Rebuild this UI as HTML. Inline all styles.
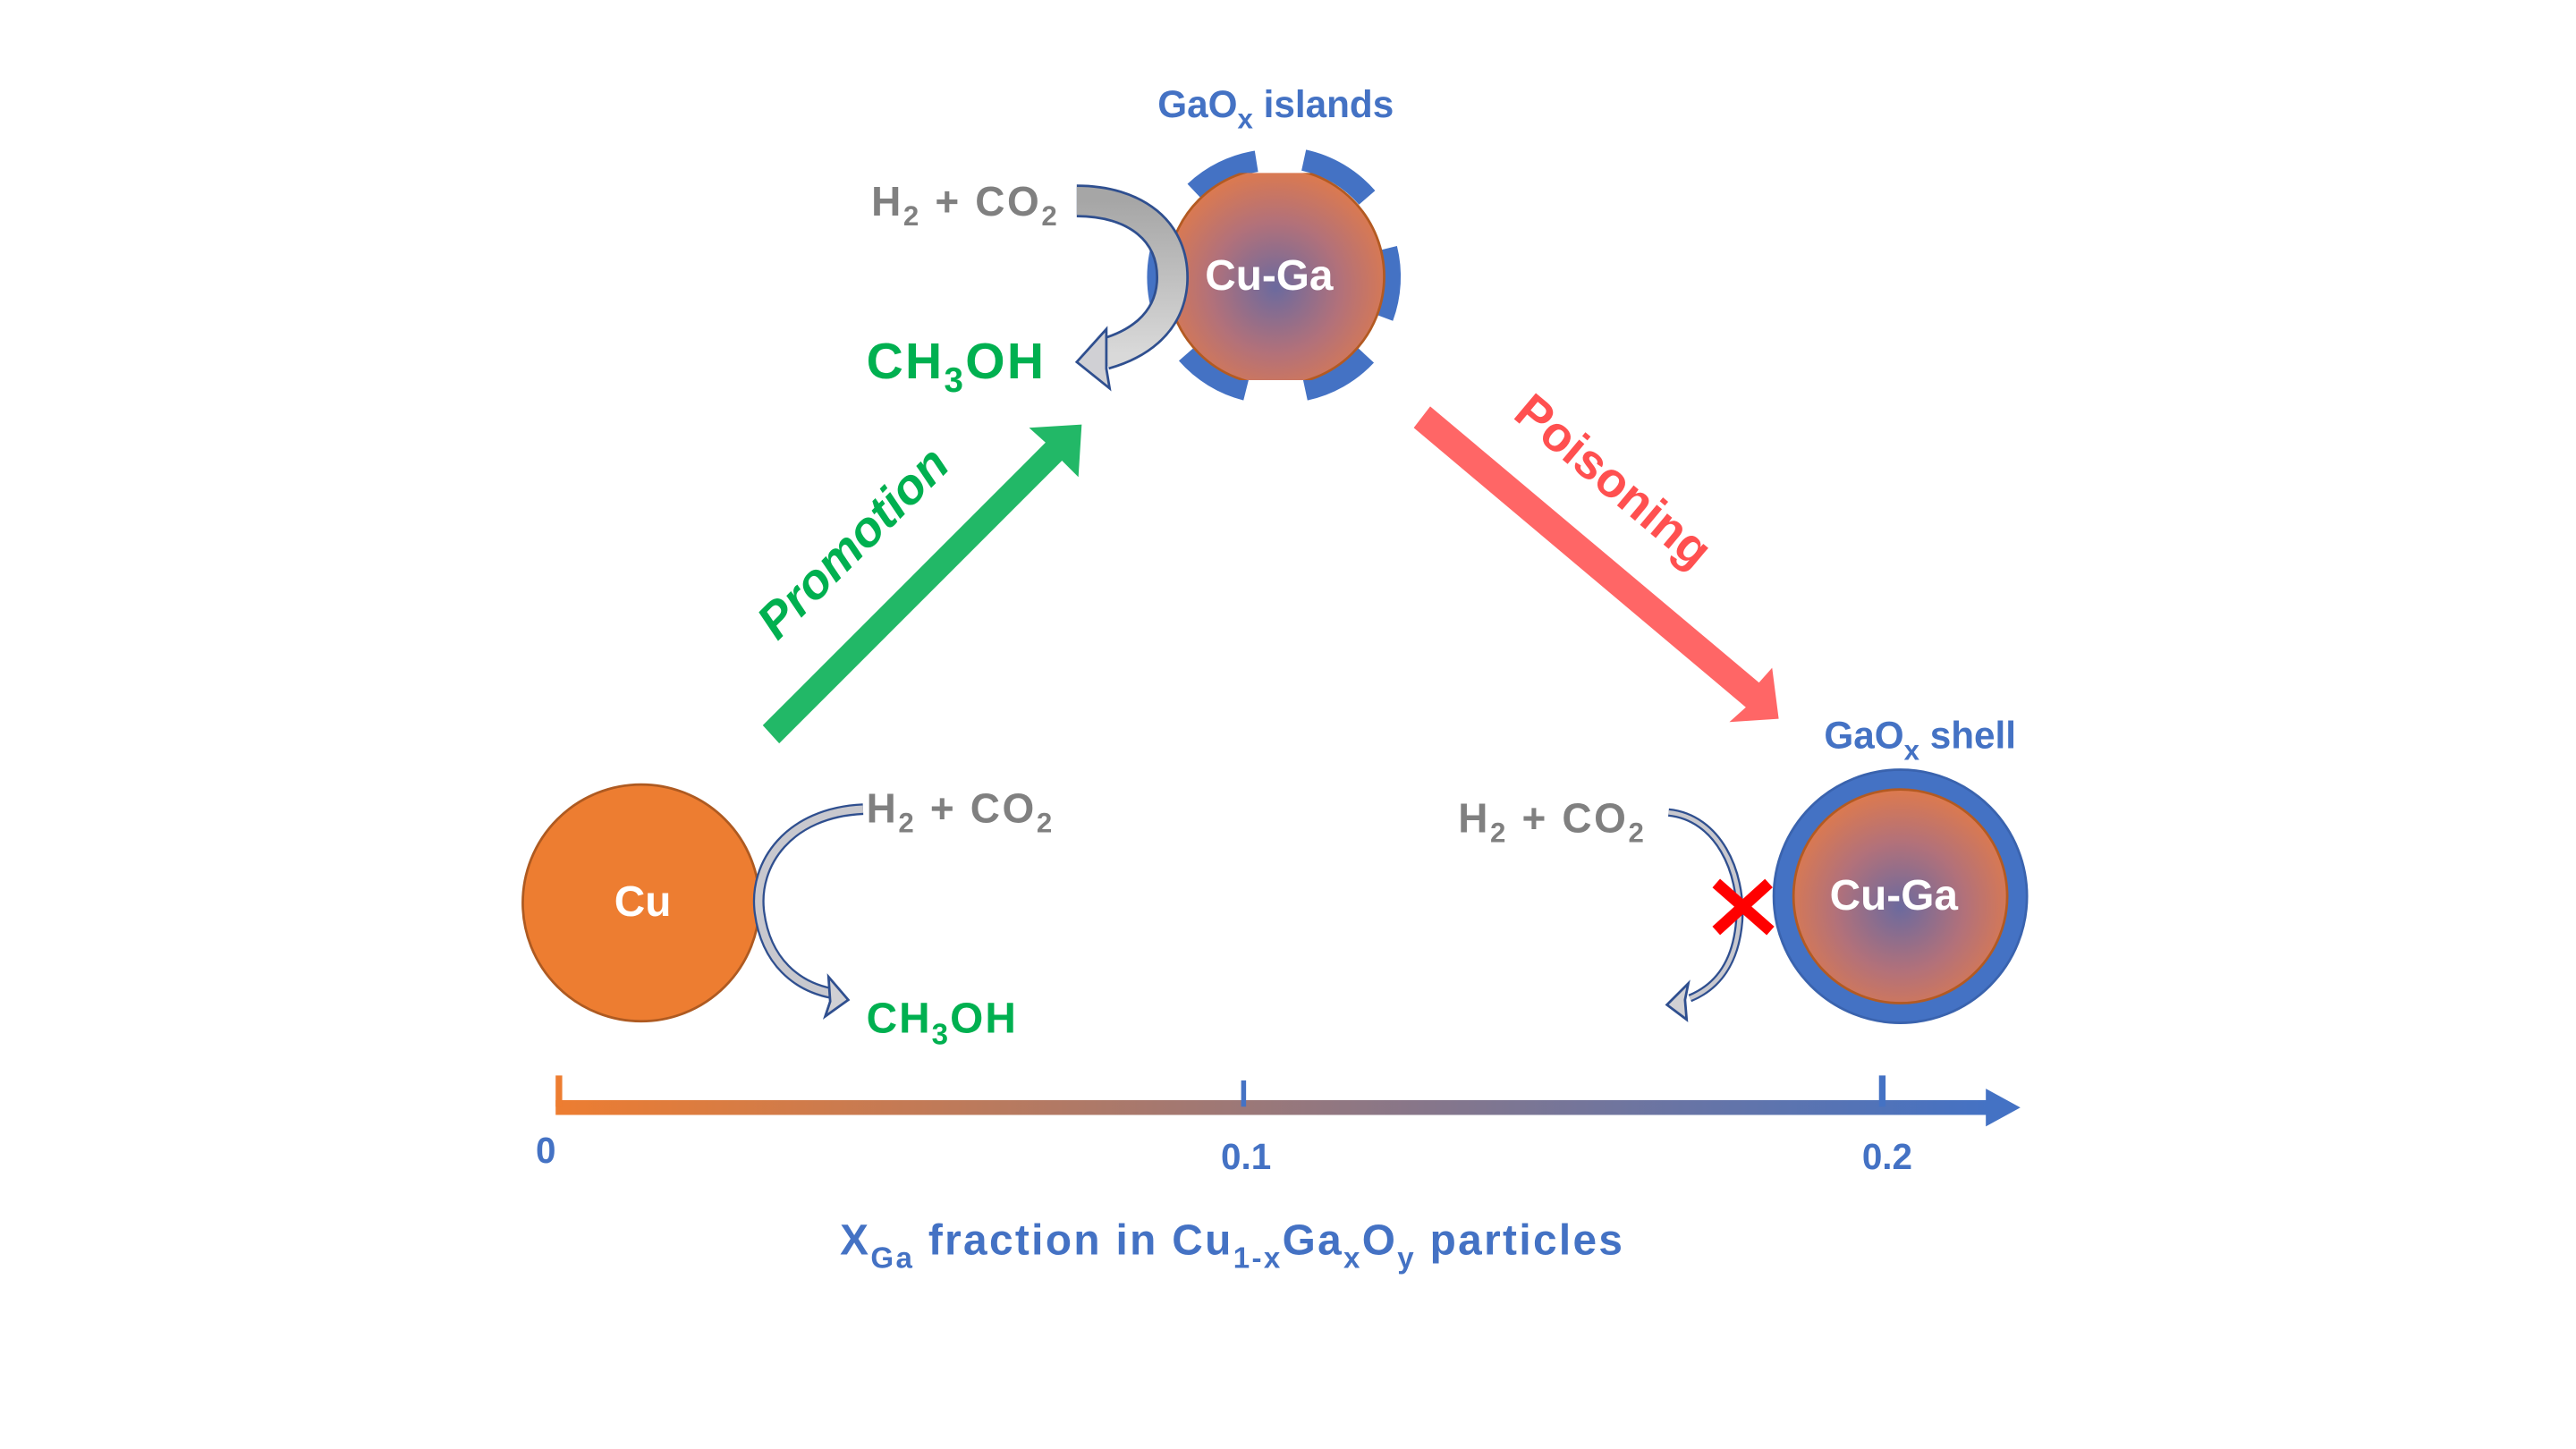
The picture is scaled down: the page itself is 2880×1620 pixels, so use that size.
<!DOCTYPE html>
<html><head><meta charset="utf-8"><style>
html,body{margin:0;padding:0;background:#fff;}
svg{display:block;}
text{font-family:"Liberation Sans",sans-serif;font-weight:bold;}
</style></head><body>
<svg width="2880" height="1620" viewBox="0 0 1567 881" xmlns="http://www.w3.org/2000/svg">
<defs>
<radialGradient id="cg" cx="50%" cy="55%" r="55%">
<stop offset="0" stop-color="#6B6A9E"/>
<stop offset="0.55" stop-color="#B2717A"/>
<stop offset="1" stop-color="#DD7A4E"/>
</radialGradient>
<linearGradient id="ax" x1="0" x2="1" y1="0" y2="0">
<stop offset="0" stop-color="#ED7D31"/>
<stop offset="1" stop-color="#4472C4"/>
</linearGradient>
<linearGradient id="gr" x1="0" x2="0" y1="0" y2="1">
<stop offset="0" stop-color="#A6A6A6"/>
<stop offset="1" stop-color="#D9D9D9"/>
</linearGradient>
<clipPath id="oct"><rect x="700" y="105" width="152" height="126"/></clipPath>
</defs>

<g fill="none" stroke="#4472C4" stroke-width="13">
<path d="M 764.3 97.9 A 71 71 0 0 0 726.8 116.4"/>
<path d="M 793.1 97.2 A 71 71 0 0 1 831.6 120"/>
<path d="M 843.5 151 A 71 71 0 0 1 841.2 192.7"/>
<path d="M 831 216 A 71 71 0 0 1 794 237"/>
<path d="M 758 237 A 71 71 0 0 1 722 215"/>
<path d="M 709 194 A 71 71 0 0 1 709 143"/>
</g>
<g clip-path="url(#oct)">
<circle cx="776" cy="168" r="66" fill="url(#cg)" stroke="#B35A22" stroke-width="1.5"/>
</g>
<text x="772" y="176" font-size="26" fill="#fff" text-anchor="middle">Cu-Ga</text>
<text x="776" y="71" font-size="23" fill="#4472C4" text-anchor="middle">GaO<tspan font-size="17" dy="7">x</tspan><tspan dy="-7"> islands</tspan></text>

<path d="M 655 122 C 690 122 715 140 713 172 C 711 198 690 210 672 215" fill="none" stroke="#2F4F8F" stroke-width="20"/>
<path d="M 655 122 C 690 122 715 140 713 172 C 711 198 690 210 672 215" fill="none" stroke="url(#gr)" stroke-width="17"/>
<polygon points="673,200 655,220 675,236 673,224" fill="#D0D0D4" stroke="#2F4F8F" stroke-width="1.5"/>
<text x="530" y="131" font-size="25" fill="#808080" textLength="113">H<tspan font-size="17" dy="6">2</tspan><tspan dy="-6"> + CO</tspan><tspan font-size="17" dy="6">2</tspan></text>
<text x="527" y="230" font-size="31" fill="#00B050" textLength="108">CH<tspan font-size="21" dy="8">3</tspan><tspan dy="-8">OH</tspan></text>

<polygon points="464,441 636,269 626,260 658,258 656,290 646,280 474,452" fill="#22B867"/>
<text transform="translate(526,337) rotate(-45)" font-size="30" font-style="italic" fill="#00B050" text-anchor="middle">Promotion</text>

<polygon points="860,260 1062,430 1052,439 1082,437 1078,406 1070,415 870,247" fill="#FF6666"/>
<text transform="translate(975,300) rotate(40)" font-size="30" fill="#FF5050" text-anchor="middle">Poisoning</text>

<circle cx="390" cy="549" r="72" fill="#ED7D31" stroke="#AE5A21" stroke-width="1.5"/>
<text x="391" y="557" font-size="26" fill="#fff" text-anchor="middle">Cu</text>
<path d="M 525 492 C 480 494 458 525 462 555 C 466 585 485 600 506 604" fill="none" stroke="#2F4F8F" stroke-width="7"/>
<path d="M 525 492 C 480 494 458 525 462 555 C 466 585 485 600 506 604" fill="none" stroke="#C8C8CE" stroke-width="4.5"/>
<polygon points="504,594 516,608 502,618 505,609" fill="#D0D0D4" stroke="#2F4F8F" stroke-width="1.5"/>
<text x="527" y="500" font-size="25" fill="#808080" textLength="113">H<tspan font-size="17" dy="6">2</tspan><tspan dy="-6"> + CO</tspan><tspan font-size="17" dy="6">2</tspan></text>
<text x="527" y="628" font-size="26" fill="#00B050" textLength="91">CH<tspan font-size="18" dy="7">3</tspan><tspan dy="-7">OH</tspan></text>

<circle cx="1156" cy="545" r="77" fill="#4472C4" stroke="#3A63AE" stroke-width="1.5"/>
<circle cx="1156" cy="545" r="65" fill="url(#cg)" stroke="#B35A22" stroke-width="1.5"/>
<text x="1152" y="553" font-size="26" fill="#fff" text-anchor="middle">Cu-Ga</text>
<text x="1168" y="455" font-size="23" fill="#4472C4" text-anchor="middle">GaO<tspan font-size="17" dy="7">x</tspan><tspan dy="-7"> shell</tspan></text>
<text x="887" y="506" font-size="25" fill="#808080" textLength="113">H<tspan font-size="17" dy="6">2</tspan><tspan dy="-6"> + CO</tspan><tspan font-size="17" dy="6">2</tspan></text>
<path d="M 1015 494 C 1045 497 1060 530 1058 560 C 1056 585 1045 600 1028 607" fill="none" stroke="#2F4F8F" stroke-width="5"/>
<path d="M 1015 494 C 1045 497 1060 530 1058 560 C 1056 585 1045 600 1028 607" fill="none" stroke="#C8C8CE" stroke-width="2.5"/>
<polygon points="1027,598 1014,611 1026,620 1025,608" fill="#D0D0D4" stroke="#2F4F8F" stroke-width="1.5"/>
<g stroke="#FF0000" stroke-width="7">
<line x1="1044" y1="537" x2="1077" y2="566"/>
<line x1="1044" y1="566" x2="1076" y2="537"/>
</g>

<rect x="338" y="669" width="872" height="9" fill="url(#ax)"/>
<polygon points="1208,662 1229,673.5 1208,685" fill="#4472C4"/>
<rect x="338" y="654" width="4" height="19" fill="#ED7D31"/>
<rect x="755" y="657" width="3" height="16" fill="#4472C4"/>
<rect x="1143" y="654" width="4" height="19" fill="#4472C4"/>
<text x="332" y="707" font-size="22" fill="#4472C4" text-anchor="middle">0</text>
<text x="758" y="711" font-size="22" fill="#4472C4" text-anchor="middle">0.1</text>
<text x="1148" y="711" font-size="22" fill="#4472C4" text-anchor="middle">0.2</text>
<text x="511" y="763" font-size="26" fill="#4472C4" textLength="476">X<tspan font-size="18" dy="8">Ga</tspan><tspan dy="-8"> fraction in Cu</tspan><tspan font-size="18" dy="8">1-x</tspan><tspan dy="-8">Ga</tspan><tspan font-size="18" dy="8">x</tspan><tspan dy="-8">O</tspan><tspan font-size="18" dy="8">y</tspan><tspan dy="-8"> particles</tspan></text>
</svg>
</body></html>
